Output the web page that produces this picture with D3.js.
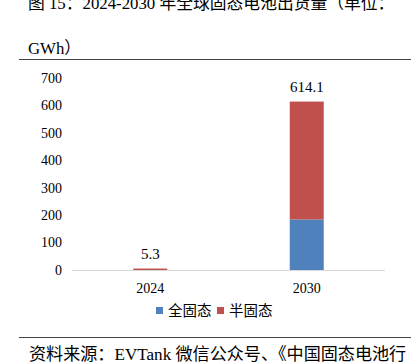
<!DOCTYPE html>
<html><head><meta charset="utf-8">
<script src="https://cdn.jsdelivr.net/npm/d3@7/dist/d3.min.js"></script>
<style>body{margin:0;background:#fff;}svg{display:block;}</style>
</head><body>
<svg id="c" width="419" height="364"></svg>
<script>
const categories = ["2024", "2030"];
const seriesNames = ["全固态", "半固态"];
const fullSolid = [0, 184.2];
const semiSolid = [5.3, 429.9];
const totalLabels = ["5.3", "614.1"];
const yTicks = [0, 100, 200, 300, 400, 500, 600, 700];
const colors = ["#4F81BD", "#C0504D"];
const titleLines = ["图 15：2024-2030 年全球固态电池出货量（单位：", "GWh）"];
const sourceText = "资料来源：EVTank 微信公众号、《中国固态电池行";

const font = "'Liberation Serif','Times New Roman','Noto Sans CJK SC',serif";
const svg = d3.select("#c");

// title
svg.append("text").attr("x", 28).attr("y", 9).attr("font-family", font).attr("font-size", 16.8).attr("fill", "#000").text(titleLines[0]);
svg.append("text").attr("x", 28).attr("y", 54).attr("font-family", font).attr("font-size", 16.8).attr("fill", "#000").text(titleLines[1]);
svg.append("line").attr("x1", 19).attr("x2", 411).attr("y1", 59.5).attr("y2", 59.5).attr("stroke", "#444").attr("stroke-width", 1);

const x = d3.scaleBand().domain(categories).range([72, 385]);
const y = d3.scaleLinear().domain([0, 700]).range([270, 78]);

// y labels
svg.append("g").selectAll("text").data(yTicks).join("text")
  .attr("x", 62).attr("y", d => y(d)).attr("dy", "0.35em").attr("text-anchor", "end")
  .attr("font-family", font).attr("font-size", 14).attr("fill", "#000").text(d => d);

// stacked bars
const rows = categories.map((c, i) => ({cat: c, "全固态": fullSolid[i], "半固态": semiSolid[i]}));
const stack = d3.stack().keys(seriesNames)(rows);
const bw = 34;
svg.append("g").selectAll("g").data(stack).join("g").attr("fill", (d, i) => colors[i])
  .selectAll("rect").data(d => d).join("rect")
  .attr("x", d => x(d.data.cat) + x.bandwidth() / 2 - bw / 2)
  .attr("width", bw)
  .attr("y", d => y(d[1]))
  .attr("height", d => Math.max(0, y(d[0]) - y(d[1])));

// baseline
svg.append("line").attr("x1", 72).attr("x2", 385).attr("y1", y(0) + 0.5).attr("y2", y(0) + 0.5).attr("stroke", "#d9d9d9").attr("stroke-width", 1);

// value labels
const totals = categories.map((c, i) => fullSolid[i] + semiSolid[i]);
svg.append("g").selectAll("text").data(categories).join("text")
  .attr("x", d => x(d) + x.bandwidth() / 2).attr("y", (d, i) => y(totals[i]) - 10)
  .attr("text-anchor", "middle").attr("font-family", font).attr("font-size", 15).attr("fill", "#000")
  .text((d, i) => totalLabels[i]);

// x labels
svg.append("g").selectAll("text").data(categories).join("text")
  .attr("x", d => x(d) + x.bandwidth() / 2).attr("y", 293)
  .attr("text-anchor", "middle").attr("font-family", font).attr("font-size", 14).attr("fill", "#000").text(d => d);

// legend
const legX = [156, 217];
const lg = svg.append("g").selectAll("g").data(seriesNames).join("g").attr("transform", (d, i) => `translate(${legX[i]},307)`);
lg.append("rect").attr("width", 7).attr("height", 7).attr("fill", (d, i) => colors[i]);
lg.append("text").attr("x", 12).attr("y", 3.5).attr("dy", "0.35em").attr("font-family", "'Noto Sans CJK SC',sans-serif").attr("font-size", 14.5).attr("fill", "#000").text(d => d);

// bottom rule and source
svg.append("line").attr("x1", 19).attr("x2", 411).attr("y1", 337.5).attr("y2", 337.5).attr("stroke", "#444").attr("stroke-width", 1);
svg.append("text").attr("x", 29).attr("y", 360).attr("font-family", font).attr("font-size", 17.1).attr("fill", "#000").text(sourceText);
</script>
</body></html>
